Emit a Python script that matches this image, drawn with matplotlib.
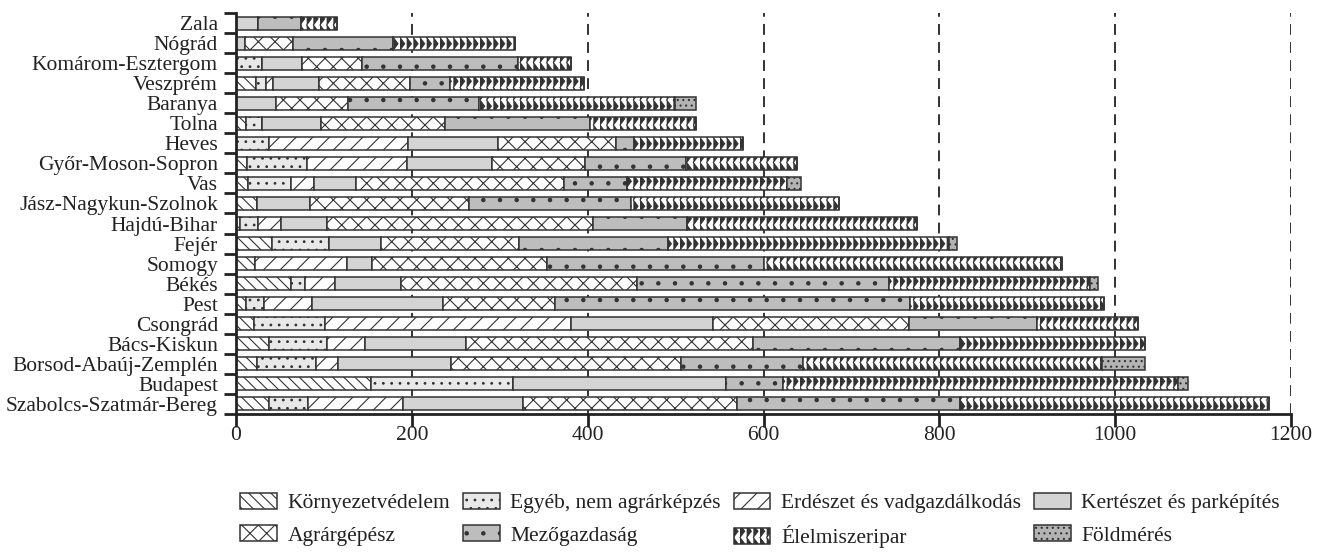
import warnings
import numpy as np
import matplotlib
matplotlib.use('Agg')
import matplotlib.pyplot as plt
import matplotlib.hatch as mhatch
from matplotlib.path import Path

warnings.filterwarnings('ignore')

# megyék, felülről lefelé
regions = ['Zala', 'Nógrád', 'Komárom-Esztergom', 'Veszprém', 'Baranya', 'Tolna',
           'Heves', 'Győr-Moson-Sopron', 'Vas', 'Jász-Nagykun-Szolnok', 'Hajdú-Bihar',
           'Fejér', 'Somogy', 'Békés', 'Pest', 'Csongrád', 'Bács-Kiskun',
           'Borsod-Abaúj-Zemplén', 'Budapest', 'Szabolcs-Szatmár-Bereg']

series_names = ['Környezetvédelem', 'Egyéb, nem agrárképzés', 'Erdészet és vadgazdálkodás',
                'Kertészet és parképítés', 'Agrárgépész', 'Mezőgazdaság',
                'Élelmiszeripar', 'Földmérés']

kornyezet = [0, 0, 0, 23, 0, 11, 0, 13, 14, 24, 4, 41, 22, 63, 11, 20, 37, 24, 153, 37]
egyeb = [0, 0, 30, 11, 0, 19, 38, 68, 49, 0, 21, 65, 0, 15, 21, 81, 67, 67, 162, 45]
erdeszet = [0, 0, 0, 8, 0, 0, 158, 113, 26, 0, 26, 0, 104, 35, 54, 280, 43, 25, 0, 108]
kerteszet = [25, 10, 45, 52, 45, 67, 102, 97, 48, 60, 52, 59, 29, 75, 149, 162, 115, 128, 242, 137]
agrargepesz = [0, 55, 68, 104, 82, 141, 134, 106, 236, 181, 303, 157, 199, 268, 128, 223, 326, 262, 0, 243]
mezogazdasag = [49, 114, 178, 45, 149, 165, 21, 115, 72, 184, 107, 169, 246, 287, 404, 145, 236, 139, 65, 253]
elelmiszer = [41, 138, 60, 153, 223, 120, 124, 126, 182, 237, 262, 320, 340, 228, 220, 115, 210, 340, 449, 352]
foldmeres = [0, 0, 0, 0, 24, 0, 0, 0, 16, 0, 0, 9, 0, 10, 0, 0, 0, 49, 12, 0]

xticks = [0, 200, 400, 600, 800, 1000, 1200]


# cikcakk mintázat az élelmiszeriparhoz ('z')
class ZigzagHatch(mhatch.HatchPatternBase):
    def __init__(self, hatch, density):
        self.num_cols = int(hatch.count('z') * density * 2.5)
        self.num_vertices = self.num_cols * 17

    def set_vertices_and_codes(self, vertices, codes):
        k = np.arange(17)
        for i in range(self.num_cols):
            x0 = i / self.num_cols
            vertices[i * 17:(i + 1) * 17, 0] = x0 + 0.7 / self.num_cols * (k % 2)
            vertices[i * 17:(i + 1) * 17, 1] = k / 16
            codes[i * 17] = Path.MOVETO
            codes[i * 17 + 1:(i + 1) * 17] = Path.LINETO


mhatch._hatch_types.append(ZigzagHatch)

plt.rcParams['font.family'] = ['Liberation Serif', 'DejaVu Serif']
plt.rcParams['hatch.linewidth'] = 0.8
plt.rcParams['text.color'] = '#222222'

data = [kornyezet, egyeb, erdeszet, kerteszet, agrargepesz, mezogazdasag, elelmiszer, foldmeres]
colors = ['white', '#e8e8e8', 'white', '#d4d4d4', 'white', '#bdbdbd', 'white', '#b3b3b3']
hatches = ['\\\\\\', '..', '//', '', 'xx', '.', 'z', '...']

fig, ax = plt.subplots(figsize=(13.25, 5.53), dpi=100)
fig.subplots_adjust(left=236 / 1325, right=1291 / 1325, top=1 - 13 / 553, bottom=1 - 414 / 553)

y = np.arange(len(regions))
left = np.zeros(len(regions))
bars = []
for vals, name, c, h in zip(data, series_names, colors, hatches):
    b = ax.barh(y, vals, left=left, height=0.65, color=c, hatch=h,
                edgecolor='#333333', linewidth=1.1, label=name, zorder=3)
    bars.append(b)
    left += np.array(vals)

ax.set_xlim(0, 1200)
ax.set_ylim(19.5, -0.5)
ax.set_xticks(xticks)
ax.set_yticks(y)
ax.set_yticklabels(regions)
ax.set_yticks(np.arange(-0.5, 20, 1), minor=True)

ax.tick_params(axis='y', which='major', length=0, pad=13, labelsize=15.5, labelcolor='#222222')
ax.tick_params(axis='y', which='minor', length=9, width=2, color='#222222')
ax.tick_params(axis='x', which='major', length=9, width=2, pad=0, labelsize=15.5,
               color='#222222', labelcolor='#222222')

ax.grid(axis='x', linestyle=(0, (6, 4)), color='#222222', linewidth=1.3, zorder=0)
ax.set_axisbelow(True)

for s in ['top', 'right']:
    ax.spines[s].set_visible(False)
for s in ['left', 'bottom']:
    ax.spines[s].set_linewidth(2)
    ax.spines[s].set_color('#222222')
    ax.spines[s].set_zorder(4)

# legenda: 4 oszlop, oszloponként töltve
order = [0, 4, 1, 5, 2, 6, 3, 7]
ax.legend([bars[i] for i in order], [series_names[i] for i in order],
          ncol=4, frameon=False, loc='upper left',
          bbox_to_anchor=(240 / 1325, 1 - 493 / 553), bbox_transform=fig.transFigure,
          borderaxespad=0, borderpad=0, fontsize=15.5,
          handlelength=1.7, handleheight=0.75, handletextpad=0.5,
          columnspacing=0.6, labelspacing=0.55)

fig.savefig('out.png', dpi=100)
